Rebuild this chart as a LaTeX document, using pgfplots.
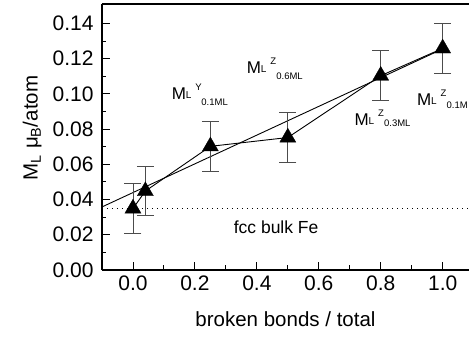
\documentclass[border=0pt]{standalone}
\usepackage{fontspec}
\setmainfont{Liberation Sans}
\usepackage{pgfplots}
\pgfplotsset{compat=1.18}
\newcommand{\lab}[3]{%
  \rlap{\fontsize{17}{17}\selectfont M}%
  \hspace{14pt}\rlap{\raisebox{0.5pt}{\fontsize{10}{10}\selectfont L}}%
  \hspace{9.5pt}\rlap{\raisebox{9pt}{\fontsize{9.5}{9.5}\selectfont #1}}%
  \hspace{6pt}\raisebox{#3}{\fontsize{9.5}{9.5}\selectfont #2}}
\begin{document}
\begin{tikzpicture}
\begin{axis}[
  at={(0,0)}, anchor=south west,
  scale only axis, width=367pt, height=266pt,
  xmin=-0.1, xmax=1.085, ymin=0, ymax=0.151,
  axis lines*=left,
  axis line style={line width=1.3pt},
  tick align=inside,
  xtick={0,0.2,0.4,0.6,0.8,1.0},
  minor xtick={0.1,0.3,0.5,0.7,0.9},
  ytick={0,0.02,0.04,0.06,0.08,0.10,0.12,0.14},
  minor ytick={0.01,0.03,0.05,0.07,0.09,0.11,0.13},
  major tick length=8pt, minor tick length=4.5pt,
  every tick/.style={line width=0.9pt, black},
  /pgf/number format/assume math mode=true,
  xticklabel style={yshift=-2pt, /pgf/number format/.cd, fixed, fixed zerofill, precision=1},
  yticklabel style={xshift=-5pt, /pgf/number format/.cd, fixed, fixed zerofill, precision=2},
  tick label style={font=\fontsize{21}{22}\selectfont},
  label style={font=\fontsize{20.5}{21}\selectfont},
  xlabel={broken bonds / total},
  ylabel={M\textsubscript{L} μ\textsubscript{B}/atom},
  xlabel style={at={(axis description cs:0.5,-0.184)}, anchor=center},
  ylabel style={at={(axis description cs:-0.19,0.534)}, anchor=center},
  clip=false,
]
\addplot[black, line width=0.9pt] coordinates {(-0.1,0.0358) (1.0,0.1255)};
\addplot[black, line width=0.9pt] coordinates {(0,0.0349) (0.04,0.0448) (0.25,0.0702) (0.5,0.0752) (0.8,0.1103) (1.0,0.1258)};
\addplot[black, line width=0.9pt, dash pattern=on 1pt off 4pt] coordinates {(-0.1,0.0350) (1.085,0.0350)};
\addplot[only marks, mark=none, error bars/.cd, y dir=both, y explicit,
  error bar style={line width=0.9pt, black!70},
  error mark options={rotate=90, black!70, mark size=8.5pt, line width=0.9pt}]
  table[x=x, y=y, y error=e] {
x y e
0 0.0349 0.0140
0.04 0.0448 0.0140
0.25 0.0702 0.0141
0.5 0.0752 0.0141
0.8 0.1103 0.0142
1.0 0.1258 0.0142
};
\addplot[only marks, mark=triangle*, mark size=9.3pt, mark options={fill=black, draw=black, line width=0.3pt}]
  table[x=x, y=y] {
x y
0 0.0349
0.04 0.0448
0.25 0.0702
0.5 0.0752
0.8 0.1103
1.0 0.1258
};
\draw[line width=1.3pt] (rel axis cs:0,1) -- (rel axis cs:1,1);
\node[anchor=base west, inner sep=0, font=\fontsize{17.5}{18}\selectfont] at (axis cs:0.325,0.0208) {fcc bulk Fe};
\node[anchor=base west, inner sep=0] at (axis cs:0.125,0.0969) {\lab{Y}{0.1ML}{-6.5pt}};
\node[anchor=base west, inner sep=0] at (axis cs:0.367,0.1116) {\lab{Z}{0.6ML}{-6pt}};
\node[anchor=base west, inner sep=0] at (axis cs:0.715,0.0823) {\lab{Z}{0.3ML}{-1pt}};
\node[anchor=base west, inner sep=0] at (axis cs:0.917,0.0936) {\lab{Z}{0.1M}{-3.3pt}};
\end{axis}
\pgfresetboundingbox
\path[use as bounding box] (-102pt,-67pt) rectangle (367pt,270pt);
\end{tikzpicture}
\end{document}
